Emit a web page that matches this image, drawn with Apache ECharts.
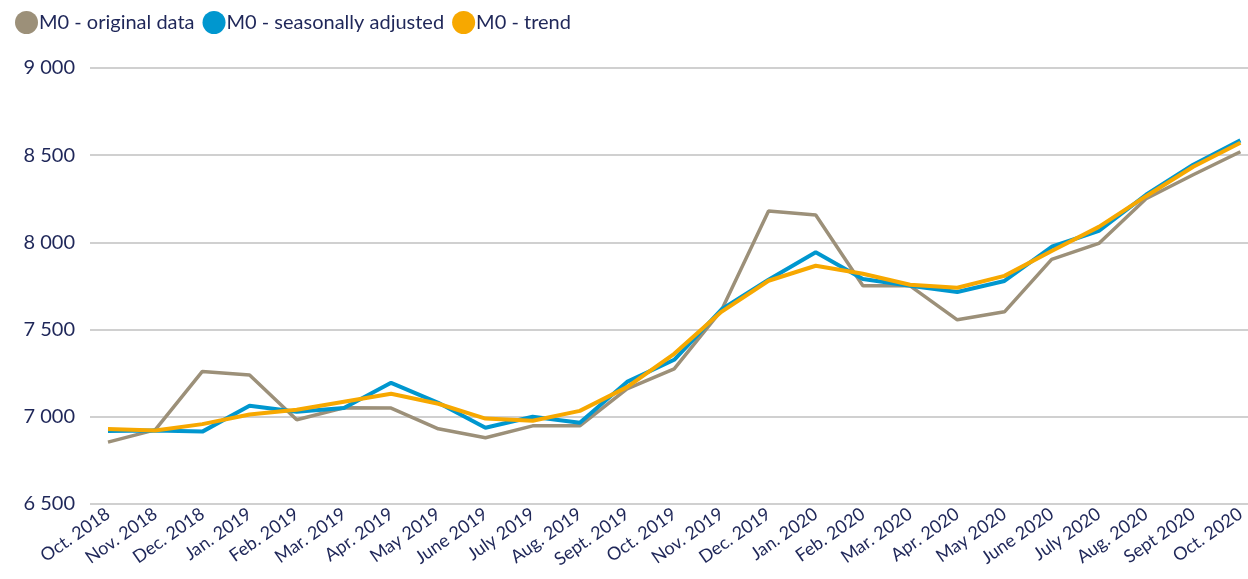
<!DOCTYPE html>
<html lang="en">
<head>
    <meta charset="UTF-8">
    <title>M0</title>
    <script src="https://cdn.jsdelivr.net/npm/echarts@6/dist/echarts.min.js"></script>
    <style>
        html, body { margin: 0; padding: 0; background: #fff; }
        #container { width: 1248px; height: 579px; }
    </style>
</head>
<body>
<div id="container"></div>
<script>
    var months = ['Oct. 2018', 'Nov. 2018', 'Dec. 2018', 'Jan. 2019', 'Feb. 2019', 'Mar. 2019', 'Apr. 2019',
        'May 2019', 'June 2019', 'July 2019', 'Aug. 2019', 'Sept. 2019', 'Oct. 2019', 'Nov. 2019',
        'Dec. 2019', 'Jan. 2020', 'Feb. 2020', 'Mar. 2020', 'Apr. 2020', 'May 2020', 'June 2020',
        'July 2020', 'Aug. 2020', 'Sept 2020', 'Oct. 2020'];

    var originalData = [6855, 6925, 7260, 7240, 6983, 7052, 7050, 6931, 6880, 6948, 6948, 7160, 7275,
        7610, 8180, 8157, 7751, 7751, 7556, 7602, 7903, 7994, 8250, 8388, 8520];
    var seasonallyAdjusted = [6918, 6922, 6915, 7063, 7029, 7050, 7195, 7080, 6937, 7000, 6966, 7200, 7327,
        7615, 7786, 7943, 7790, 7751, 7716, 7779, 7975, 8066, 8273, 8445, 8585];
    var trend = [6930, 6922, 6958, 7013, 7040, 7086, 7132, 7075, 6990, 6977, 7034, 7170, 7361,
        7602, 7780, 7866, 7820, 7757, 7740, 7808, 7951, 8089, 8265, 8434, 8571];

    var yMin = 6500, yMax = 9000, yStep = 500;
    var textColor = '#1f2759';

    function fmt(v) {
        return String(v).replace(/\B(?=(\d{3})+(?!\d))/g, ' ');
    }

    var myChart = echarts.init(document.getElementById('container'));
    var option = {
        animation: false,
        textStyle: { fontFamily: 'Lato' },
        legend: {
            left: 10,
            top: 6,
            icon: 'circle',
            itemWidth: 23,
            itemHeight: 23,
            itemGap: 8,
            textStyle: { color: textColor, fontSize: 20, padding: [0, 0, 0, -4] },
            data: ['M0 - original data', 'M0 - seasonally adjusted', 'M0 - trend']
        },
        grid: [
            // background grid for the horizontal gridlines
            { left: 90, right: 0, top: 68, bottom: 75 },
            // plotting grid
            { left: 108, right: 5, top: 68, bottom: 75 }
        ],
        xAxis: [
            { gridIndex: 0, type: 'value', show: false, min: 0, max: 1 },
            {
                gridIndex: 1,
                type: 'category',
                boundaryGap: false,
                data: months,
                axisLine: { show: false },
                axisTick: { show: false },
                axisLabel: {
                    interval: 0,
                    rotate: 35,
                    margin: 8,
                    color: textColor,
                    fontSize: 18
                }
            }
        ],
        yAxis: [
            {
                gridIndex: 0,
                type: 'value',
                min: yMin,
                max: yMax,
                interval: yStep,
                axisLine: { show: false },
                axisTick: { show: false },
                splitLine: { lineStyle: { color: '#d0d0d0', width: 2 } },
                axisLabel: { color: textColor, fontSize: 20, margin: 15, formatter: fmt }
            },
            {
                gridIndex: 1,
                type: 'value',
                min: yMin,
                max: yMax,
                interval: yStep,
                show: false,
                splitLine: { show: false }
            }
        ],
        series: [
            {
                name: 'M0 - original data',
                type: 'line',
                xAxisIndex: 1,
                yAxisIndex: 1,
                data: originalData,
                symbol: 'none',
                color: '#9c9079',
                lineStyle: { width: 3.5, color: '#9c9079' }
            },
            {
                name: 'M0 - seasonally adjusted',
                type: 'line',
                xAxisIndex: 1,
                yAxisIndex: 1,
                data: seasonallyAdjusted,
                symbol: 'none',
                color: '#0097cf',
                lineStyle: { width: 4, color: '#0097cf' }
            },
            {
                name: 'M0 - trend',
                type: 'line',
                xAxisIndex: 1,
                yAxisIndex: 1,
                data: trend,
                symbol: 'none',
                color: '#f7a800',
                lineStyle: { width: 4, color: '#f7a800' }
            }
        ]
    };
    myChart.setOption(option);
</script>
</body>
</html>
